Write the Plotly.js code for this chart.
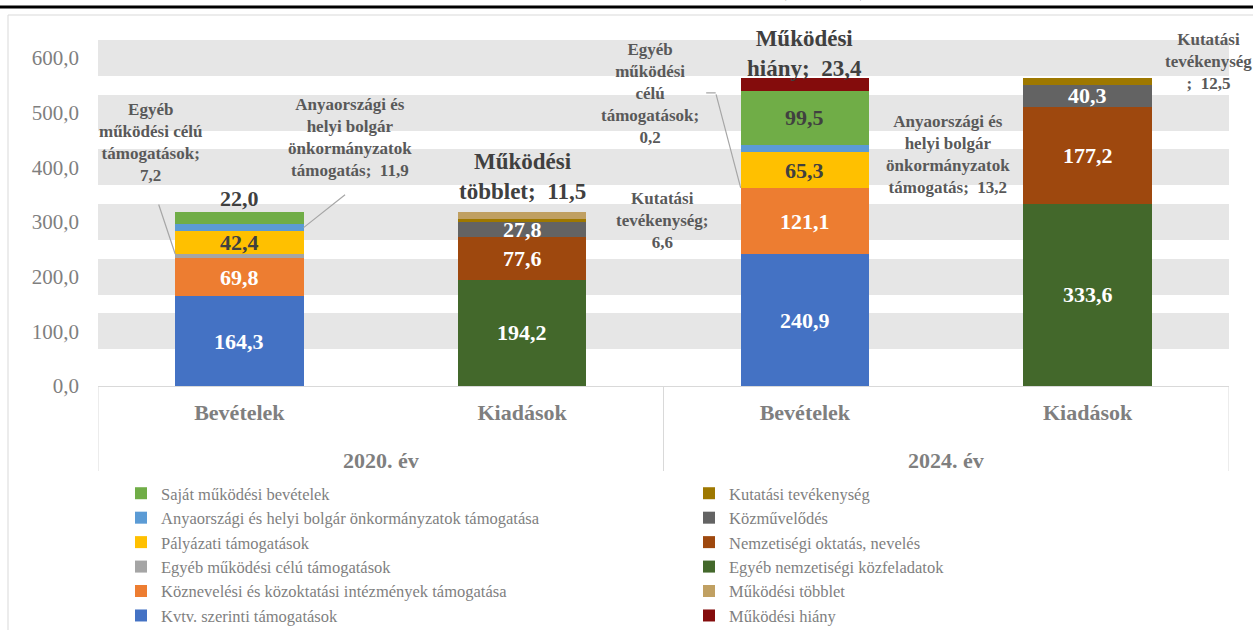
<!DOCTYPE html>
<html>
<head>
<meta charset="utf-8">
<script src="https://cdn.plot.ly/plotly-3.0.1.min.js"></script>
<style>html,body{margin:0;padding:0;background:#fff;}#chart{width:1253px;height:630px;}</style>
</head>
<body>
<div id="chart"></div>
<script>
// ---- Data (millió Ft) ----
const years = ['2020. év', '2020. év', '2024. év', '2024. év'];
const sides = ['Bevételek', 'Kiadások', 'Bevételek', 'Kiadások'];

// Bevételek
const kvtv        = [164.3, null, 240.9, null];
const koznev      = [69.8,  null, 121.1, null];
const egyebMuk    = [7.2,   null, 0.2,   null];
const palyazati   = [42.4,  null, 65.3,  null];
const anyaorszagi = [11.9,  null, 13.2,  null];
const sajat       = [22.0,  null, 99.5,  null];
const hiany       = [null,  null, 23.4,  null];
// Kiadások
const egyebNemz   = [null, 194.2, null, 333.6];
const nemzOkt     = [null, 77.6,  null, 177.2];
const kozmuv      = [null, 27.8,  null, 40.3];
const kutatasi    = [null, 6.6,   null, 12.5];
const tobblet     = [null, 11.5,  null, null];

const yTicks = [0, 100, 200, 300, 400, 500, 600];

// category slots on the x axis
const slots = sides.map((_, i) => i);
const yearNames = [...new Set(years)];

// ---- Series config (stacking order = array order) ----
const DARK = '#404040', WHITE = '#ffffff';
const series = [
  {key:'kvtv',        name:'Kvtv. szerinti támogatások', v:kvtv, color:'#4472C4', legend:'legend', rank:6, label:WHITE},
  {key:'koznev',      name:'Köznevelési és közoktatási intézmények támogatása', v:koznev, color:'#ED7D31', legend:'legend', rank:5, label:WHITE},
  {key:'egyebMuk',    name:'Egyéb működési célú támogatások', v:egyebMuk, color:'#A5A5A5', legend:'legend', rank:4, label:null},
  {key:'palyazati',   name:'Pályázati támogatások', v:palyazati, color:'#FFC000', legend:'legend', rank:3, label:DARK},
  {key:'anyaorszagi', name:'Anyaországi és helyi bolgár önkormányzatok támogatása', v:anyaorszagi, color:'#5B9BD5', legend:'legend', rank:2, label:null},
  {key:'sajat',       name:'Saját működési bevételek', v:sajat, color:'#70AD47', legend:'legend', rank:1, label:DARK},
  {key:'hiany',       name:'Működési hiány', v:hiany, color:'#840C0C', legend:'legend2', rank:12, label:null},
  {key:'egyebNemz',   name:'Egyéb nemzetiségi közfeladatok', v:egyebNemz, color:'#43682B', legend:'legend2', rank:10, label:WHITE},
  {key:'nemzOkt',     name:'Nemzetiségi oktatás, nevelés', v:nemzOkt, color:'#9E480E', legend:'legend2', rank:9, label:WHITE},
  {key:'kozmuv',      name:'Közművelődés', v:kozmuv, color:'#636363', legend:'legend2', rank:8, label:WHITE},
  {key:'kutatasi',    name:'Kutatási tevékenység', v:kutatasi, color:'#9E7800', legend:'legend2', rank:7, label:null},
  {key:'tobblet',     name:'Működési többlet', v:tobblet, color:'#C0A062', legend:'legend2', rank:11, label:null}
];

const BARGAP = 0.546;
const HALF = (1 - BARGAP) / 2;
const fmt = v => v.toFixed(1).replace('.', ',');

// stack bases
const base = {};
const cum = slots.map(() => 0);
series.forEach(s => {
  base[s.key] = cum.slice();
  s.v.forEach((v, i) => { if (v != null) cum[i] += v; });
});

const traces = series.map(s => ({
  type: 'bar',
  name: s.name,
  x: slots,
  y: s.v,
  marker: {color: s.color, line: {width: 0}},
  legend: s.legend,
  legendrank: s.rank,
  hoverinfo: 'name+y'
}));

const annotations = [];
// inside / top value labels
series.forEach(s => {
  if (!s.label) return;
  s.v.forEach((v, i) => {
    if (v == null) return;
    const b = base[s.key][i];
    const isTop = s.key === 'sajat' && v < 25;
    if (isTop) {
      annotations.push({x: i, y: b + v, xref: 'x', yref: 'y', text: fmt(v), showarrow: false,
        yanchor: 'middle', yshift: 14, font: {size: 22, color: DARK, weight: 'bold'}});
    } else {
      annotations.push({x: i, y: b + v / 2, xref: 'x', yref: 'y', text: fmt(v), showarrow: false,
        yanchor: 'middle', font: {size: 22, color: s.label, weight: 'bold'}});
    }
  });
});

// callouts (label positions in axis units)
const callouts = [
  {key:'egyebMuk', i:0, lines:['Egyéb', 'működési célú', 'támogatások;', ''], x:-0.316, y:446},
  {key:'anyaorszagi', i:0, lines:['Anyaországi és', 'helyi bolgár', 'önkormányzatok', 'támogatás;\u00a0 '], x:0.391, y:455},
  {key:'tobblet', i:1, lines:['Működési', 'többlet;\u00a0 '], x:1, y:383, big:true},
  {key:'kutatasi', i:1, lines:['Kutatási', 'tevékenység;', ''], x:1.498, y:303},
  {key:'egyebMuk', i:2, lines:['Egyéb', 'működési', 'célú', 'támogatások;', ''], x:1.452, y:534},
  {key:'hiany', i:2, lines:['Működési', 'hiány;\u00a0 '], x:2, y:608, big:true},
  {key:'anyaorszagi', i:2, lines:['Anyaországi és', 'helyi bolgár', 'önkormányzatok', 'támogatás;\u00a0 '], x:2.506, y:424},
  {key:'kutatasi', i:3, lines:['Kutatási', 'tevékenység', ';\u00a0 '], x:3.426, y:594}
];
const byKey = {}; series.forEach(s => byKey[s.key] = s);
callouts.forEach(c => {
  const v = byKey[c.key].v[c.i];
  const lines = c.lines.slice();
  lines[lines.length - 1] += fmt(v);
  annotations.push({x: c.x, y: c.y, xref: 'x', yref: 'y', text: lines.join('<br>'), showarrow: false,
    align: 'center', xanchor: 'center', yanchor: 'middle',
    font: c.big ? {size: 23, color: DARK, weight: 'bold'} : {size: 17, color: '#595959', weight: 'bold'}});
});

// leader lines
const leader = (key, i, edge, where, ax, ay, extra) => {
  const s = byKey[key];
  const b = base[key][i], v = s.v[i];
  const y = where === 'top' ? b + v : b + v / 2;
  const x = i + (edge === 'left' ? -HALF : HALF);
  annotations.push(Object.assign({x: x, y: y, xref: 'x', yref: 'y', text: '', showarrow: true,
    arrowhead: 0, arrowwidth: 1.2, arrowcolor: '#a6a6a6', standoff: 0, startstandoff: 0,
    axref: 'pixel', ayref: 'pixel', ax: ax, ay: ay}, extra || {}));
};
leader('egyebMuk', 0, 'left', 'top', -17, -51);
leader('anyaorszagi', 0, 'right', 'mid', 43, -34);
leader('egyebMuk', 2, 'left', 'top', -25, -95);
leader('egyebMuk', 2, 'left', 'top', -11, 0, {xshift: -25, yshift: 95});

// year group labels (second row of the category axis)
yearNames.forEach(yn => {
  const idx = slots.filter(i => years[i] === yn);
  const mid = idx.reduce((a, b) => a + b, 0) / idx.length;
  annotations.push({x: mid, xref: 'x', y: (386 - 461) / 350, yref: 'paper', yanchor: 'middle',
    text: yn, showarrow: false, font: {size: 22, color: '#7f7f7f', weight: 'bold'}});
});

// cut-off title
annotations.push({xref: 'paper', yref: 'paper', x: (823 - 98) / 1131, y: (386 - 3) / 350,
  xanchor: 'center', yanchor: 'bottom', text: '(millió Ft)', showarrow: false,
  font: {size: 20, color: '#000', weight: 'bold'}});

// group dividers of the category axis
const dividerX = [-0.5];
yearNames.forEach(yn => {
  const idx = slots.filter(i => years[i] === yn);
  dividerX.push(Math.max(...idx) + 0.5);
});
const shapes = dividerX.map(dx => ({type: 'line', xref: 'x', yref: 'paper', x0: dx, x1: dx,
  y0: 0, y1: (386 - 471) / 350, line: {color: '#d9d9d9', width: 1}}));
shapes.push(
  {type: 'line', xref: 'paper', yref: 'paper', x0: -0.1, x1: 1.05, y0: (386 - 7) / 350, y1: (386 - 7) / 350,
   line: {color: '#000', width: 3}},
  {type: 'rect', xref: 'paper', yref: 'paper', x0: (8 - 98) / 1131, x1: 1.03, y0: -0.75, y1: (386 - 15) / 350,
   line: {color: '#d9d9d9', width: 1}, fillcolor: 'rgba(0,0,0,0)'}
);

const legendFont = {size: 16.5, color: '#7f7f7f'};
const layout = {
  width: 1253, height: 630,
  margin: {l: 98, r: 24, t: 36, b: 244, autoexpand: false},
  paper_bgcolor: '#ffffff', plot_bgcolor: '#ffffff',
  font: {family: 'Liberation Serif', color: '#595959'},
  separators: ', ',
  barmode: 'stack',
  bargap: BARGAP,
  showlegend: true,
  xaxis: {
    type: 'linear', range: [-0.5, 3.5],
    tickvals: slots, ticktext: sides,
    showline: true, linecolor: '#d9d9d9', linewidth: 1,
    ticks: '', showgrid: false, zeroline: false,
    ticklabelstandoff: 7,
    tickfont: {size: 22, color: '#7f7f7f', weight: 'bold'}
  },
  yaxis: {
    range: [0, 640],
    tickvals: yTicks, tickformat: '.1f',
    showgrid: true, gridwidth: 36, gridcolor: '#e6e6e6',
    zeroline: false, showline: false, ticks: '',
    ticklabelstandoff: 18,
    tickfont: {size: 21, color: '#7f7f7f'}
  },
  legend: {x: (121 - 98) / 1131, y: (386 - 476) / 350, xanchor: 'left', yanchor: 'top',
    traceorder: 'normal', font: legendFont, bgcolor: 'rgba(0,0,0,0)', tracegroupgap: 0},
  legend2: {x: (689 - 98) / 1131, y: (386 - 476) / 350, xanchor: 'left', yanchor: 'top',
    traceorder: 'normal', font: legendFont, bgcolor: 'rgba(0,0,0,0)', tracegroupgap: 0},
  annotations: annotations,
  shapes: shapes
};

Plotly.newPlot('chart', traces, layout, {displayModeBar: false, staticPlot: true});
</script>
</body>
</html>
